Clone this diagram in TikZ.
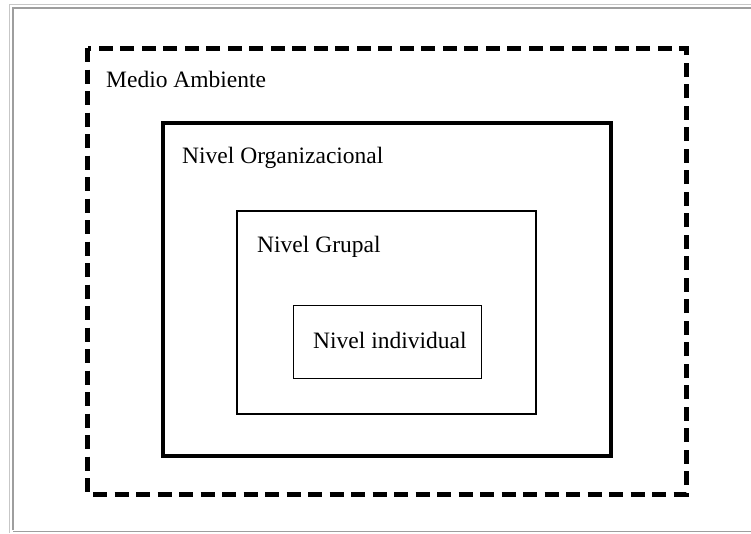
\documentclass[tikz,border=0pt]{standalone}
\usepackage{fontspec}
\setmainfont{Liberation Serif}
\begin{document}
\begin{tikzpicture}[x=1pt,y=-1pt,
  lbl/.style={anchor=base west,inner sep=0pt,font=\fontsize{23.5}{28}\selectfont},
  boxa/.style={draw,line width=5pt,dash pattern=on 14pt off 7.5pt},
  boxb/.style={draw,line width=4pt},
  boxc/.style={draw,line width=2pt},
  boxd/.style={draw,line width=1pt}]
\useasboundingbox (0,0) rectangle (751,533);
% outer frame
\draw[line width=1.5pt,color=black!22] (9.5,533) -- (9.5,4.5) -- (751,4.5);
\draw[line width=1.5pt,color=black!38] (13,530) -- (13,8) -- (751,8);
\draw[line width=1.5pt,color=black!38] (13,531.5) -- (751,531.5);
% boxes
\draw[boxa] (87.5,48) rectangle (686,494);
\draw[boxb] (162.5,122.5) rectangle (610.5,456);
\draw[boxc] (236.5,210.5) rectangle (536,414);
\draw[boxd] (293,305) rectangle (481,378);
% labels
\node[lbl] (ma) at (106,87) {Medio Ambiente};
\node[lbl] (no) at (182,163) {Nivel Organizacional};
\node[lbl] (ng) at (257,252) {Nivel Grupal};
\node[lbl] (ni) at (313,348) {Nivel individual};
\end{tikzpicture}
\end{document}
